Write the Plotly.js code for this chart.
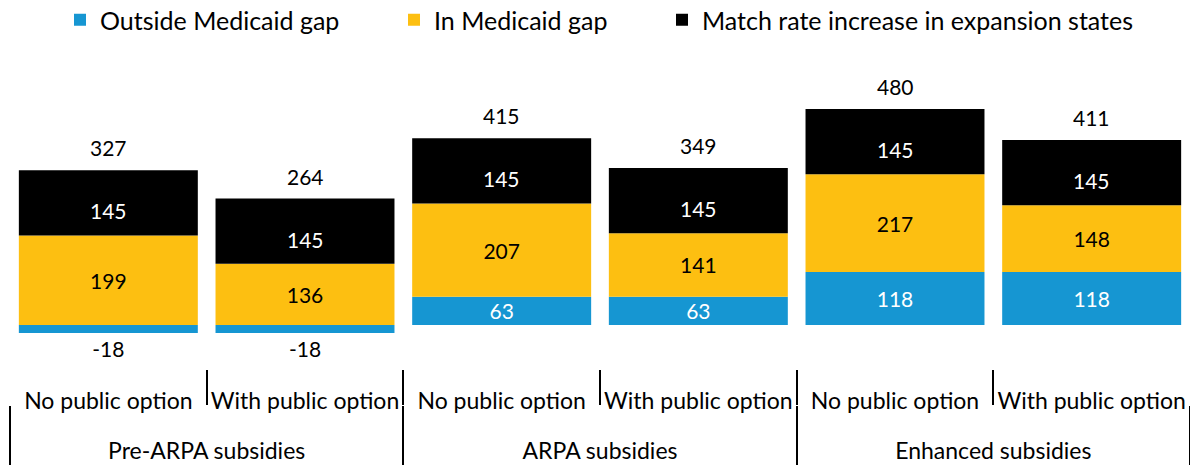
<!DOCTYPE html>
<html>
<head>
<meta charset="utf-8">
<script src="https://cdn.plot.ly/plotly-3.0.1.min.js"></script>
<style>html,body{margin:0;padding:0;background:#fff;}#chart{width:1190px;height:465px;}</style>
</head>
<body>
<div id="chart"></div>
<script>
const groups = ["Pre-ARPA subsidies", "Pre-ARPA subsidies", "ARPA subsidies", "ARPA subsidies", "Enhanced subsidies", "Enhanced subsidies"];
const options = ["No public option", "With public option", "No public option", "With public option", "No public option", "With public option"];
const outsideGap = [-18, -18, 63, 63, 118, 118];
const inGap = [199, 136, 207, 141, 217, 148];
const matchRate = [145, 145, 145, 145, 145, 145];
const totals = [327, 264, 415, 349, 480, 411];
const seriesNames = ["Outside Medicaid gap", "In Medicaid gap", "Match rate increase in expansion states"];

const FONT = "Lato, 'Open Sans', sans-serif";
const BLUE = "#1696d2", YELLOW = "#fdbf11", BLACK = "#000000";
const x = [groups, options];

const yMin = -177.8, yMax = 588.9;
const legendTextX = [100, 434, 702];
const legendIds = ["legend", "legend2", "legend3"];
const boundaries = [-0.5, 0.5, 1.5, 2.5, 3.5, 4.5, 5.5];

function barTrace(idx, vals, color, txtColor, withText) {
  const t = {
    type: "bar", name: seriesNames[idx], x: x, y: vals, legend: legendIds[idx],
    marker: {color: color, line: {width: 0}},
    cliponaxis: false,
    hoverinfo: "skip"
  };
  if (withText) {
    Object.assign(t, {
      text: vals.map(v => String(v)),
      texttemplate: "%{text}",
      textposition: vals.map(v => v < 0 ? "outside" : "inside"),
      insidetextanchor: "middle",
      constraintext: "none",
      textangle: 0,
      insidetextfont: {family: FONT, size: 21, color: txtColor},
      outsidetextfont: {family: FONT, size: 21, color: "#000"}
    });
  }
  return t;
}

const data = [
  barTrace(0, outsideGap, BLUE, "#fff", true),
  barTrace(1, inGap, YELLOW, "#000", true),
  barTrace(2, matchRate, BLACK, "#fff", false)
];

const posBase = outsideGap.map((v, i) => Math.max(v, 0) + inGap[i]);

const annotations = totals.map((t, i) => ({
  x: i, xref: "x", y: posBase[i] + matchRate[i], yref: "y",
  text: String(t), showarrow: false, yanchor: "bottom", yshift: 8,
  font: {family: FONT, size: 21, color: "#000"}
})).concat(matchRate.map((v, i) => ({
  x: i, xref: "x", y: posBase[i] + v / 2, yref: "y",
  text: String(v), showarrow: false, yanchor: "middle", yshift: -8,
  font: {family: FONT, size: 21, color: "#fff"}
})));

function legendAt(i) {
  return {orientation: "h", x: (legendTextX[i] - 40 - 10) / 1180, xanchor: "left",
          yref: "container", y: 1 - 20 / 465, yanchor: "middle", bgcolor: "rgba(0,0,0,0)",
          font: {family: FONT, size: 25, color: "#000"}, itemclick: false};
}

const layout = {
  width: 1190, height: 465,
  margin: {l: 10, r: 0, t: 60, b: 60},
  paper_bgcolor: "#fff", plot_bgcolor: "#fff",
  barmode: "relative",
  bargap: 0.09,
  font: {family: FONT, size: 21, color: "#000"},
  showlegend: true,
  legend: legendAt(0), legend2: legendAt(1), legend3: legendAt(2),
  xaxis: {
    type: "multicategory", domain: [0, 1],
    showline: false, showgrid: false, zeroline: false,
    ticks: "inside", ticklen: 35, tickwidth: 2, tickcolor: "#000",
    showdividers: true, dividercolor: "#000", dividerwidth: 2,
    tickfont: {family: FONT, size: 23, color: "#000"},
    tickangle: 0,
    ticklabelstandoff: -20
  },
  xaxis2: {
    type: "linear", overlaying: "x", anchor: "free",
    position: (0 - yMin) / (yMax - yMin),
    range: [-0.5, 5.5], showgrid: false, zeroline: false,
    showline: true, linecolor: "#000", linewidth: 2,
    ticks: "outside", ticklen: 8, tickwidth: 2, tickcolor: "#000",
    tickvals: boundaries,
    showticklabels: false
  },
  xaxis3: {
    type: "linear", overlaying: "x", anchor: "y", side: "bottom",
    range: [-0.5, 5.5], showgrid: false, zeroline: false, showline: false,
    ticks: "outside", ticklen: 8, tickwidth: 2, tickcolor: "#000",
    tickvals: boundaries,
    showticklabels: false
  },
  yaxis: {range: [yMin, yMax], visible: false, showgrid: false, zeroline: false},
  annotations: annotations
};

Plotly.newPlot("chart", data, layout, {staticPlot: true, displayModeBar: false});
</script>
</body>
</html>
